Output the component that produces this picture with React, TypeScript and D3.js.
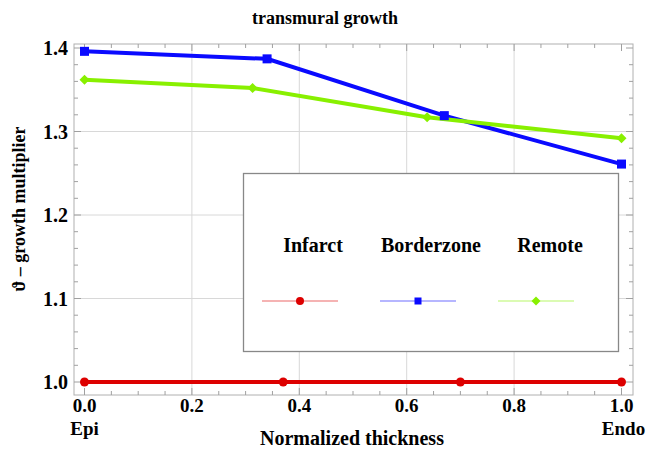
import React from "react";
import * as d3 from "d3";

const infarctX = [0, 0.37, 0.7, 1.0];
const infarctY = [1.0, 1.0, 1.0, 1.0];
const borderX = [0, 0.34, 0.67, 1.0];
const borderY = [1.396, 1.387, 1.319, 1.261];
const remoteX = [0, 0.313, 0.638, 1.0];
const remoteY = [1.362, 1.352, 1.317, 1.292];
const seriesNames = ["Infarct", "Borderzone", "Remote"];
const xTicks = [0, 0.2, 0.4, 0.6, 0.8, 1.0];
const yTicks = [1.0, 1.1, 1.2, 1.3, 1.4];

const W = 651, H = 449;
const FONT = "'Liberation Serif', 'DejaVu Serif', serif";
const RED = "#dd0000", BLUE = "#0a0aff", GREEN = "#88f000";

export default function App() {
  const x = d3.scaleLinear().domain([0, 1]).range([84.5, 621.5]);
  const y = d3.scaleLinear().domain([1.0, 1.4]).range([382, 48]);
  const frame = { l: 74, r: 633, t: 44, b: 395 };
  const line = d3.line<[number, number]>().x(d => x(d[0])).y(d => y(d[1]));
  const mk = (xs: number[], ys: number[]) => xs.map((v, i) => [v, ys[i]] as [number, number]);
  const red = mk(infarctX, infarctY), blue = mk(borderX, borderY), green = mk(remoteX, remoteY);
  const xMinor = d3.range(0, 1.0001, 0.05);
  const yMinor = d3.range(0.98, 1.4201, 0.02).filter(v => y(v) >= frame.t && y(v) <= frame.b);
  const diamond = (cx: number, cy: number, s: number) => `M${cx},${cy - s}L${cx + s},${cy}L${cx},${cy + s}L${cx - s},${cy}Z`;
  const legendColors = [RED, BLUE, GREEN];
  const legendCx = [300, 418, 536];
  const labelCx = [313, 431, 550];
  return (
    <svg width={W} height={H} style={{ position: "absolute", left: 0, top: 0, background: "#fff" }} fontFamily={FONT}>
      <rect width={W} height={H} fill="#fff" />
      {/* gridlines */}
      {xTicks.slice(1, -1).map(t => (
        <line key={"gx" + t} x1={x(t)} x2={x(t)} y1={frame.t} y2={frame.b} stroke="#d8d8d8" strokeWidth={1} />
      ))}
      {yTicks.slice(1, -1).map(t => (
        <line key={"gy" + t} x1={frame.l} x2={frame.r} y1={y(t)} y2={y(t)} stroke="#d8d8d8" strokeWidth={1} />
      ))}
      {/* frame */}
      <rect x={frame.l} y={frame.t} width={frame.r - frame.l} height={frame.b - frame.t} fill="none" stroke="#b0b0b0" strokeWidth={1} />
      {/* ticks */}
      {xMinor.map((t, i) => {
        const major = i % 4 === 0;
        const len = major ? 7 : 4;
        return (
          <g key={"xt" + i} stroke="#a0a0a0" strokeWidth={1}>
            <line x1={x(t)} x2={x(t)} y1={frame.b} y2={frame.b - len} />
            <line x1={x(t)} x2={x(t)} y1={frame.t} y2={frame.t + len} />
          </g>
        );
      })}
      {yMinor.map((t, i) => {
        const major = Math.abs(Math.round(t * 10) - t * 10) < 1e-6;
        const len = major ? 7 : 4;
        return (
          <g key={"yt" + i} stroke="#a0a0a0" strokeWidth={1}>
            <line x1={frame.l} x2={frame.l + len} y1={y(t)} y2={y(t)} />
            <line x1={frame.r} x2={frame.r - len} y1={y(t)} y2={y(t)} />
          </g>
        );
      })}
      {/* tick labels */}
      {yTicks.map(t => (
        <text key={"yl" + t} x={68} y={y(t) + 7} textAnchor="end" fontSize={20} fontWeight="bold">{t.toFixed(1)}</text>
      ))}
      {xTicks.map(t => (
        <text key={"xl" + t} x={x(t)} y={412} textAnchor="middle" fontSize={19} fontWeight="bold">{t.toFixed(1)}</text>
      ))}
      <text x={x(0)} y={435} textAnchor="middle" fontSize={19} fontWeight="bold">Epi</text>
      <text x={x(1) + 2} y={435} textAnchor="middle" fontSize={19} fontWeight="bold">Endo</text>
      <text x={352} y={445} textAnchor="middle" fontSize={20} fontWeight="bold">Normalized thickness</text>
      <text x={325} y={24} textAnchor="middle" fontSize={18} fontWeight="bold">transmural growth</text>
      <text transform={`translate(25,209) rotate(-90)`} textAnchor="middle" fontSize={18} fontWeight="bold">ϑ – growth multiplier</text>
      {/* series */}
      <path d={line(blue) || ""} fill="none" stroke={BLUE} strokeWidth={4} />
      <path d={line(green) || ""} fill="none" stroke={GREEN} strokeWidth={4} />
      <path d={line(red) || ""} fill="none" stroke={RED} strokeWidth={4} />
      {red.map((d, i) => <circle key={"rc" + i} cx={x(d[0])} cy={y(d[1])} r={4.5} fill={RED} />)}
      {blue.map((d, i) => <rect key={"bs" + i} x={x(d[0]) - 4.5} y={y(d[1]) - 4.5} width={9} height={9} fill={BLUE} />)}
      {green.map((d, i) => <path key={"gd" + i} d={diamond(x(d[0]), y(d[1]), 5)} fill={GREEN} />)}
      {/* legend */}
      <rect x={243.5} y={173.5} width={375} height={178} fill="#fff" stroke="#888" strokeWidth={1.3} />
      {seriesNames.map((n, i) => (
        <text key={"ln" + i} x={labelCx[i]} y={252} textAnchor="middle" fontSize={20} fontWeight="bold">{n}</text>
      ))}
      {seriesNames.map((n, i) => (
        <line key={"ll" + i} x1={legendCx[i] - 38} x2={legendCx[i] + 38} y1={301} y2={301} stroke={legendColors[i]} strokeOpacity={0.4} strokeWidth={1.5} />
      ))}
      <circle cx={legendCx[0]} cy={301} r={4} fill={RED} />
      <rect x={legendCx[1] - 3.5} y={297.5} width={7} height={7} fill={BLUE} />
      <path d={diamond(legendCx[2], 301, 4.5)} fill={GREEN} />
    </svg>
  );
}
